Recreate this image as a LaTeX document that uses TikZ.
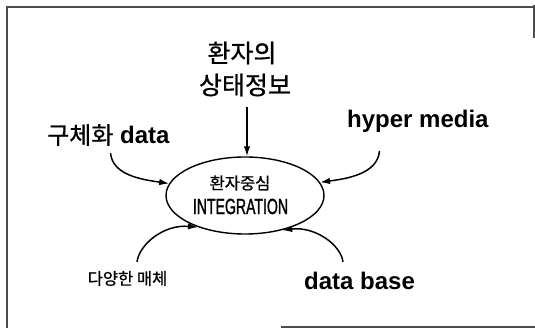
\documentclass[tikz,border=0pt]{standalone}
\usepackage{fontspec}
\setmainfont{Liberation Sans}
\newfontfamily\kr[FakeBold=0.8]{Noto Sans CJK KR}
\newfontfamily\narrowsans[FakeStretch=0.64,FakeBold=1.2]{Liberation Sans}
\usetikzlibrary{arrows.meta,shapes.geometric}
\begin{document}
\begin{tikzpicture}[x=1pt,y=-1pt,
  frameline/.style={draw=black!70,line width=1.3pt},
  label/.style={inner sep=0pt,text=black},
  flow/.style={line width=1.5pt,-{Latex[length=10pt,width=6.5pt]}},
  hub/.style={ellipse,draw,line width=1.4pt,minimum width=158pt,minimum height=77pt,inner sep=0pt}]
  \useasboundingbox (0,0) rectangle (535,328);

  % scanned frame edges
  \draw[frameline] (7,328) -- (7,7) -- (533,7);
  \draw[frameline] (534,5) -- (534,38);
  \draw[frameline] (281,327) -- (535,327);

  % central ellipse
  \node[hub] (hub) at (245,195.5) {};
  \node[label,font=\kr\fontsize{16.5}{18}\selectfont] (hubkr) at (240,183) {환자중심};
  \node[label,font=\narrowsans\fontsize{22}{24}\selectfont] (hubeng) at (240.5,206.5) {INTEGRATION};

  % surrounding labels
  \node[label,font=\kr\fontsize{25}{28}\selectfont] (pt1) at (242,53) {환자의};
  \node[label,font=\kr\fontsize{25}{28}\selectfont] (pt2) at (245,85) {상태정보};
  \node[label,anchor=base west,font=\fontsize{24}{28}\selectfont] (conc) at (47,144) {{\kr 구체화} \textbf{data}};
  \node[label,anchor=base west,font=\bfseries\fontsize{24}{28}\selectfont] (hyper) at (347,128) {hyper media};
  \node[label,font=\kr\fontsize{16.5}{18}\selectfont] (media) at (127.5,278.5) {다양한 매체};
  \node[label,anchor=base west,font=\bfseries\fontsize{24}{28}\selectfont] (dbase) at (304,290) {data base};

  % arrow start points below/above the labels
  \coordinate (s0) at (247,107);
  \coordinate (s1) at (110.5,153);
  \coordinate (s2) at (379.5,151);
  \coordinate (s3) at (137,262);
  \coordinate (s4) at (343,262);

  % arrows into the ellipse
  \draw[flow] (s0) -- (s0 |- hub.north);
  \draw[flow] (s1) .. controls +(2,22) and +(-28,-4) .. (hub.171);
  \draw[flow] (s2) .. controls +(-2,22) and +(30,-4) .. (hub.10);
  \draw[flow] (s3) .. controls +(2,-17) and +(-35,-3) .. (hub.214);
  \draw[flow] (s4) .. controls +(-2,-17) and +(33,-4) .. (hub.317);
\end{tikzpicture}
\end{document}
